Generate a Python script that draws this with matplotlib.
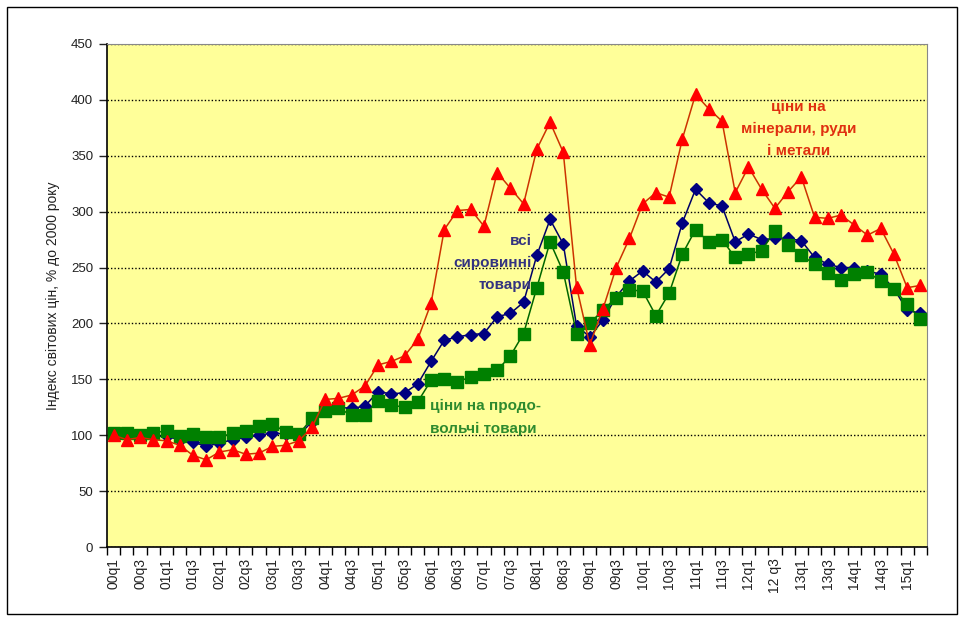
import matplotlib
matplotlib.use('Agg')
import matplotlib.pyplot as plt
from matplotlib.patches import Rectangle
import numpy as np

plt.rcParams['font.family'] = ['Liberation Sans', 'DejaVu Sans']

# квартали 00q1 .. 15q2
quarters = [f"{y:02d}q{q}" for y in range(0, 16) for q in range(1, 5)][:62]
tick_labels = ['00q1', '00q3', '01q1', '01q3', '02q1', '02q3', '03q1', '03q3',
               '04q1', '04q3', '05q1', '05q3', '06q1', '06q3', '07q1', '07q3',
               '08q1', '08q3', '09q1', '09q3', '10q1', '10q3', '11q1', '11q3',
               '12q1', '12 q3', '13q1', '13q3', '14q1', '14q3', '15q1']

# всі сировинні товари
all_goods = [100, 99, 99, 99, 99, 96, 94, 90, 93, 96, 98, 100, 102, 101, 100, 112,
             125, 125, 124, 126, 139, 137, 138, 146, 166, 185, 188, 190, 191, 206,
             209, 219, 261, 293, 271, 198, 188, 203, 224, 238, 247, 237, 249, 290,
             320, 308, 305, 273, 280, 275, 276, 276, 274, 259, 253, 250, 250, 247,
             244, 231, 212, 209]
# ціни на продовольчі товари
food = [102, 102, 100, 102, 104, 99, 101, 98, 98, 102, 104, 108, 110, 103, 101, 115,
        122, 124, 118, 118, 131, 127, 125, 130, 149, 150, 148, 152, 155, 158,
        171, 191, 232, 273, 246, 191, 200, 212, 223, 230, 229, 207, 227, 262,
        284, 273, 275, 259, 262, 265, 283, 270, 261, 253, 245, 239, 244, 246,
        238, 231, 217, 204]
# ціни на мінерали, руди і метали
minerals = [100, 96, 98, 96, 95, 91, 82, 78, 85, 87, 83, 84, 90, 91, 95, 107,
            132, 133, 136, 144, 163, 166, 171, 186, 218, 284, 301, 302, 287, 335,
            321, 307, 356, 380, 353, 233, 181, 213, 250, 276, 307, 317, 313, 365,
            405, 392, 381, 317, 340, 320, 303, 318, 331, 295, 294, 297, 288, 279,
            285, 262, 232, 234]

x = np.arange(len(quarters))

fig = plt.figure(figsize=(9.65, 6.18), dpi=100)
ax = fig.add_axes([107/965, 1 - 547/618, 820/965, 503/618])
ax.set_facecolor('#FFFF99')

ax.plot(x, all_goods, color='#000066', lw=1.1, marker='D', ms=6.5,
        mfc='#000080', mec='#000080', zorder=3)
ax.plot(x, food, color='#006600', lw=1.1, marker='s', ms=8,
        mfc='#008000', mec='#008000', zorder=4)
ax.plot(x, minerals, color='#CC3300', lw=1.1, marker='^', ms=8.5,
        mfc='#FF0000', mec='#FF0000', zorder=5)

ax.set_xlim(-0.5, len(quarters) - 0.5)
ax.set_ylim(0, 450)
ax.set_yticks(np.arange(0, 451, 50))
ax.yaxis.grid(True, color='black', linestyle=(0, (1, 1.5)), lw=1)
ax.set_axisbelow(True)

ax.set_xticks(x[::2])
ax.set_xticklabels(tick_labels, rotation=90)
ax.set_xticks(np.arange(-0.5, len(quarters)), minor=True)
ax.tick_params(axis='x', which='major', length=0, pad=8, labelsize=10, colors='#222222')
ax.tick_params(axis='x', which='minor', length=6, width=1, color='black')
ax.tick_params(axis='y', length=6, width=1, labelsize=9.5, colors='#222222', pad=4)

for s in ['top', 'right']:
    ax.spines[s].set_color('#888888')
for s in ['left', 'bottom']:
    ax.spines[s].set_color('black')
    ax.spines[s].set_linewidth(1.2)

ax.set_ylabel('Індекс світових цін, % до 2000 року', fontsize=10, color='#222222', labelpad=8)

ax.text(31.6, 254, 'всі\nсировинні\nтовари', ha='right', va='center',
        fontsize=11, fontweight='bold', color='#333380', linespacing=1.75)
ax.text(51.8, 374, 'ціни на\nмінерали, руди\nі метали', ha='center', va='center',
        fontsize=11, fontweight='bold', color='#E03010', linespacing=1.75)
ax.text(23.9, 116, 'ціни на продо-\nвольчі товари', ha='left', va='center',
        fontsize=11, fontweight='bold', color='#2E8B2E', linespacing=1.75)

# рамка навколо всієї діаграми
fig.patches.append(Rectangle((7/965, 4/618), 950/965, 607/618, transform=fig.transFigure,
                             fill=False, edgecolor='black', lw=1))

fig.savefig('out.png', dpi=100)
